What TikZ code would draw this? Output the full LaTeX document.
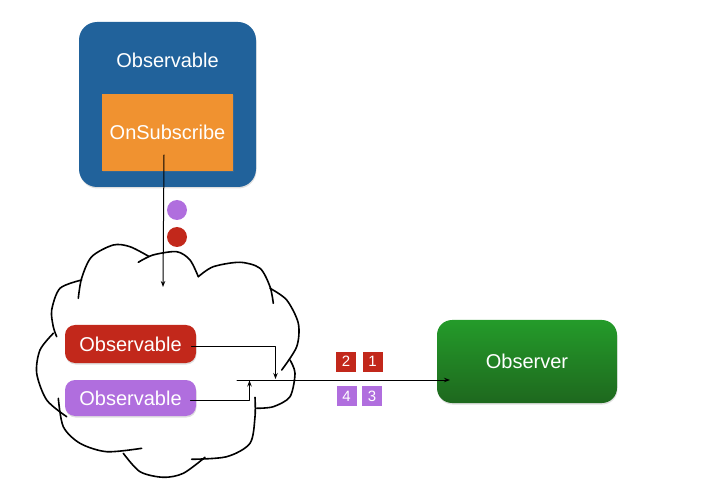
\documentclass[tikz,border=0pt]{standalone}
\usepackage{fontspec}
\setmainfont{Liberation Sans}
\usetikzlibrary{arrows.meta,shadows}
\definecolor{obsblue}{RGB}{33,98,155}
\definecolor{subor}{RGB}{240,146,48}
\definecolor{evred}{RGB}{194,40,27}
\definecolor{evpurple}{RGB}{176,110,222}
\definecolor{greentop}{RGB}{36,155,42}
\definecolor{greenbot}{RGB}{30,104,30}
\begin{document}
\begin{tikzpicture}[x=1pt,y=-1pt,>={Stealth[length=6pt,width=4.5pt]},line join=round,line cap=round,line width=1pt,
	box/.style={text=white,font=\fontsize{20}{24}\selectfont,inner sep=0pt,
		drop shadow={opacity=0.25,shadow xshift=0.5pt,shadow yshift=-1.5pt}},
	lbl/.style={text=white,font=\fontsize{20}{24}\selectfont},
	num/.style={minimum size=20pt,inner sep=0pt,text=white,font=\fontsize{15}{18}\selectfont},
	dot/.style={circle,minimum size=20pt,inner sep=0pt},
	cloudline/.style={line width=1.6pt}]
	\useasboundingbox (0,0) rectangle (716,484);

	% the source observable
	\node[box,fill=obsblue,rounded corners=18pt,minimum width=177pt,minimum height=165pt] (source) at (167.5,104.5) {};
	\node[lbl] (sourcename) at (167.5,60) {Observable};
	\node[box,fill=subor,minimum width=131pt,minimum height=77pt] (onsub) at (167.5,132.5) {OnSubscribe};

	% events
	\node[dot,fill=evpurple] (evp) at (177,210) {};
	\node[dot,fill=evred] (evr) at (177,237) {};

	% cloud
	\draw[cloudline] plot[smooth] coordinates {(78.3,298.3) (81.7,278) (91.7,256.7) (113.3,245) (130,246.7) (149,256.5)};
	\draw[cloudline] plot[smooth] coordinates {(138.3,262.3) (153,255) (176.7,251.7) (190,260) (198.3,276.7)};
	\draw[cloudline] plot[smooth] coordinates {(198.3,276.7) (213.3,266.7) (240,262.3) (260,268.3) (270,286.7) (273.3,303.3)};
	\draw[cloudline] plot[smooth] coordinates {(270,288.3) (286.7,300) (298.3,323.3) (296.7,346.7) (281.7,370)};
	\draw[cloudline] plot[smooth] coordinates {(290,360) (295,373.3) (290,396.7) (273.3,406.7) (256.7,408.3)};
	\draw[cloudline] plot[smooth] coordinates {(255,397.3) (255,416.7) (250,443.3) (226.7,456.7) (191.7,459.3)};
	\draw[cloudline] plot[smooth] coordinates {(205,457.3) (183.3,473.3) (163.3,477.3) (140,471.7) (123.3,453.3)};
	\draw[cloudline] plot[smooth] coordinates {(58.3,398.3) (63.3,426.7) (80,443.3) (106.7,451.7) (141.7,448.3)};
	\draw[cloudline] plot[smooth] coordinates {(53.3,333.3) (40,350) (36.7,373.3) (46.7,400) (66.7,416.7)};
	\draw[cloudline] plot[smooth] coordinates {(81.7,280) (60,288.3) (51.7,310) (53.3,326.7) (56.7,336.7)};

	% inner observables
	\node[box,fill=evred,rounded corners=10pt,minimum width=131pt,minimum height=38pt] (redobs) at (130.5,344) {Observable};
	\node[box,fill=evpurple,rounded corners=10pt,minimum width=131pt,minimum height=36pt] (purpobs) at (130.5,398) {Observable};

	% observer
	\node[box,top color=greentop,bottom color=greenbot,rounded corners=15pt,minimum width=180pt,minimum height=83pt] (observer) at (527,361.5) {Observer};

	% connectors
	\coordinate (substart) at (164,155);
	\coordinate (subin) at (163,287);
	\coordinate (mergeR) at (275.5,379);
	\coordinate (mergeP) at (249.5,380.5);
	\coordinate (merge) at (237,380);
	\coordinate (obsin) at (450,380);
	\draw[->] (substart) -- (subin);
	\draw[->] ([xshift=-5pt,yshift=-2pt]redobs.east) -| (mergeR);
	\draw[->] ([xshift=-6pt,yshift=-2pt]purpobs.east) -| (mergeP);
	\draw[->] (merge) -- (obsin);

	% emitted items
	\node[num,fill=evred] (n2) at (346,361.7) {2};
	\node[num,fill=evred] (n1) at (372.5,361.7) {1};
	\node[num,fill=evpurple] (n4) at (346.5,396.2) {4};
	\node[num,fill=evpurple] (n3) at (372,396.2) {3};
\end{tikzpicture}
\end{document}
